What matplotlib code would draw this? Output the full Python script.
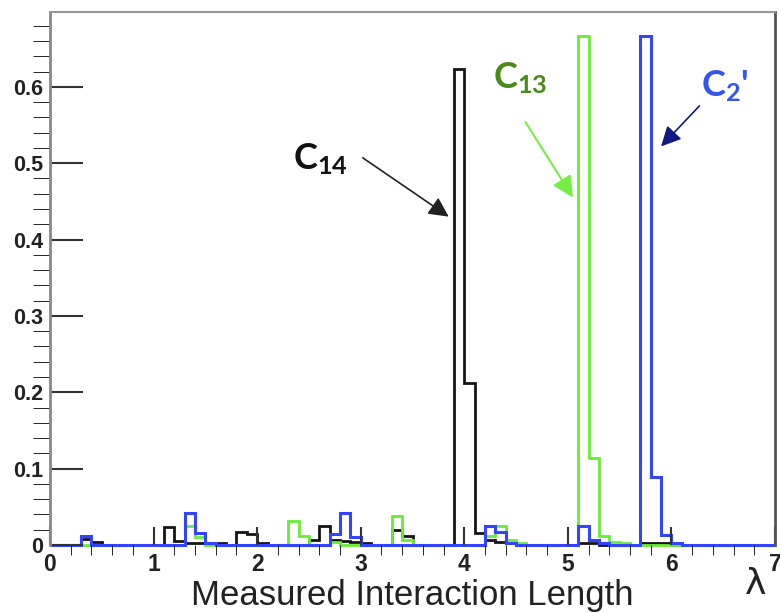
"""Measured interaction length histograms for C14, C13 and C2' (step outlines)."""

import numpy as np
import matplotlib

matplotlib.use("Agg")
import matplotlib.pyplot as plt
from matplotlib.ticker import FixedLocator, FixedFormatter, MultipleLocator

plt.rcParams["mathtext.fontset"] = "custom"
plt.rcParams["mathtext.bf"] = "Lato:bold"
plt.rcParams["mathtext.rm"] = "Lato:bold"

# bin width 0.1 over [0, 7]; only non-empty bins listed (left edge -> content)
c14_left = [0.3, 0.4, 1.1, 1.2, 1.3, 1.4, 1.5, 1.6, 1.8, 1.9, 2.0, 2.5, 2.6, 2.7,
            2.8, 2.9, 3.0, 3.3, 3.4, 3.9, 4.0, 4.1, 4.2, 4.3, 4.4, 5.1, 5.2,
            5.7, 5.8, 5.9]
c14_vals = [0.008, 0.004, 0.023, 0.005, 0.003, 0.003, 0.003, 0.003, 0.017, 0.014,
            0.002, 0.006, 0.025, 0.006, 0.005, 0.004, 0.002, 0.020, 0.012, 0.624,
            0.212, 0.016, 0.006, 0.004, 0.002, 0.002, 0.002, 0.003, 0.003, 0.003]

c13_left = [1.3, 1.4, 2.3, 2.4, 2.7, 3.3, 3.4, 4.2, 4.3, 4.4, 4.5, 5.1, 5.2, 5.3,
            5.4, 5.5]
c13_vals = [0.025, 0.010, 0.032, 0.012, 0.004, 0.038, 0.007, 0.012, 0.025, 0.006,
            0.003, 0.667, 0.114, 0.012, 0.004, 0.003]

c2_left = [0.3, 1.3, 1.4, 1.5, 2.7, 2.8, 2.9, 4.2, 4.3, 4.4, 5.1, 5.2, 5.3, 5.7,
           5.8, 5.9, 6.0]
c2_vals = [0.012, 0.042, 0.016, 0.003, 0.014, 0.042, 0.011, 0.025, 0.017, 0.003,
           0.025, 0.007, 0.003, 0.666, 0.089, 0.013, 0.003]

yticks = [0, 0.1, 0.2, 0.3, 0.4, 0.5, 0.6]
ytick_labels = ["0", "0.1", "0.2", "0.3", "0.4", "0.5", "0.6"]
xticks = [0, 1, 2, 3, 4, 5, 6, 7]

edges = np.round(np.arange(0, 7.0001, 0.1), 1)


def fill(left, vals):
    h = np.zeros(len(edges) - 1)
    for x, v in zip(left, vals):
        h[int(round(x * 10))] = v
    return h


fig = plt.figure(figsize=(7.8, 6.13), dpi=100)
ax = fig.add_axes([50 / 780, 68 / 613, 725 / 780, 533 / 613])

ax.stairs(fill(c14_left, c14_vals), edges, color="#151515", lw=2, clip_on=False)
ax.stairs(fill(c13_left, c13_vals), edges, color="#66ee33", lw=2, clip_on=False)
ax.stairs(fill(c2_left, c2_vals), edges, color="#3344ff", lw=2.2, clip_on=False)

ax.set_xlim(0, 7)
ax.set_ylim(0, 0.698)

ax.xaxis.set_major_locator(FixedLocator(xticks))
ax.xaxis.set_minor_locator(MultipleLocator(0.2))
ax.yaxis.set_major_locator(FixedLocator(yticks))
ax.yaxis.set_major_formatter(FixedFormatter(ytick_labels))
ax.yaxis.set_minor_locator(MultipleLocator(0.02))
ax.tick_params(direction="in", color="#333333", width=1.5, labelcolor="#222222")
ax.tick_params(axis="y", which="major", length=24, pad=5, labelsize=15.5)
ax.tick_params(axis="y", which="minor", length=12)
ax.tick_params(axis="x", which="major", length=13, pad=6, labelsize=16.5)
ax.tick_params(axis="x", which="minor", length=7)
for lab in ax.get_xticklabels() + ax.get_yticklabels():
    lab.set_fontfamily("Liberation Sans")
    lab.set_fontweight("bold")

ax.spines["left"].set_color("#888888")
ax.spines["left"].set_linewidth(2)
ax.spines["top"].set_color("#999999")
ax.spines["top"].set_linewidth(1.5)
ax.spines["right"].set_color("#555555")
ax.spines["right"].set_linewidth(2)
ax.spines["bottom"].set_visible(False)

ax.set_xlabel("Measured Interaction Length", family="Liberation Sans",
              fontsize=25, labelpad=2, color="#222222")
fig.text(745 / 780, 1 - 594 / 613, "λ", fontsize=26, color="#222222")

# labels and arrows
ax.text(2.35, 0.492, r"$\mathbf{C_{14}}$", fontsize=26, color="#111111")
ax.annotate("", xy=(3.85, 0.43), xytext=(3.02, 0.507),
            arrowprops=dict(arrowstyle="-|>", color="#222222", lw=1.2,
                            mutation_scale=30, shrinkA=0, shrinkB=0))
ax.text(4.28, 0.598, r"$\mathbf{C_{13}}$", fontsize=26, color="#4a8a1a")
ax.annotate("", xy=(5.05, 0.455), xytext=(4.59, 0.554),
            arrowprops=dict(arrowstyle="-|>", color="#77ee44", lw=1.5,
                            mutation_scale=32, shrinkA=0, shrinkB=0))
ax.text(6.29, 0.588, r"$\mathbf{C_{2}}$'", fontsize=26, color="#3355ee",
        family="Lato", fontweight="bold")
ax.annotate("", xy=(5.90, 0.522), xytext=(6.27, 0.575),
            arrowprops=dict(arrowstyle="-|>", color="#101a80", lw=1.2,
                            mutation_scale=30, shrinkA=0, shrinkB=0))

fig.savefig("out.png", dpi=100)
